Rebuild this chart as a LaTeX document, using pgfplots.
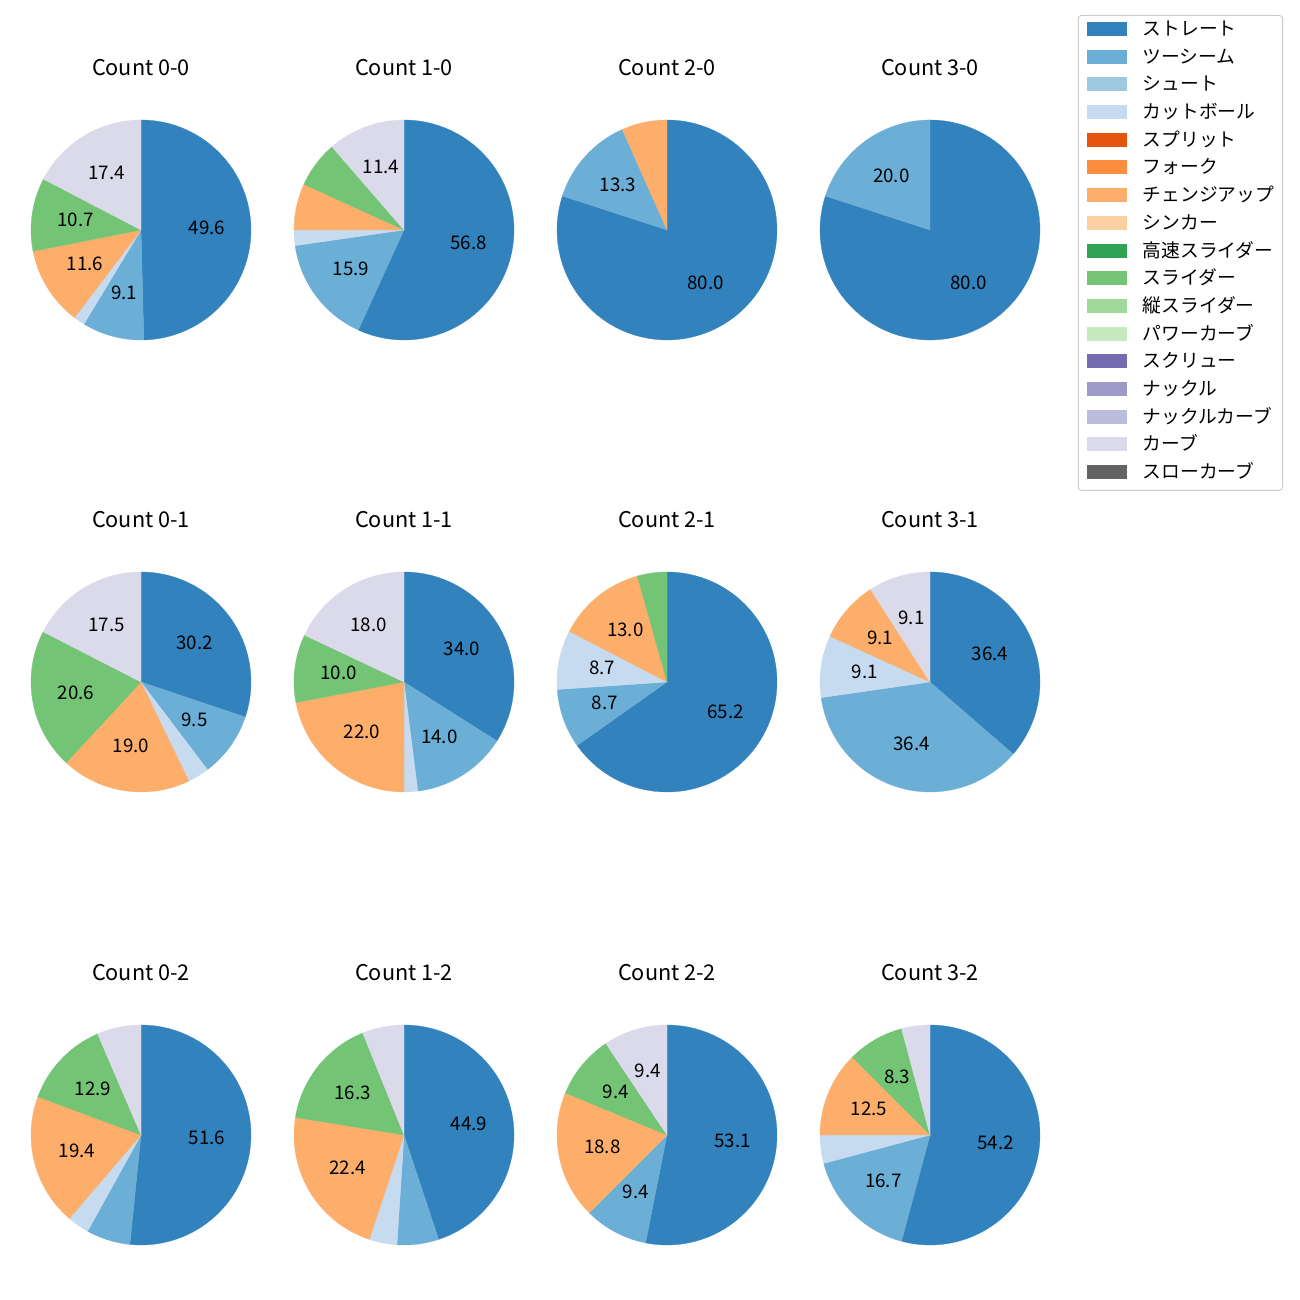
\documentclass[border=0pt]{standalone}
\usepackage{fontspec}
\setmainfont{Noto Sans CJK JP}
\usepackage{pgfplots}
\usepackage{pgfplotstable}
\pgfplotsset{compat=1.18}

\definecolor{k0}{HTML}{3182BD}
\definecolor{k1}{HTML}{6BAED6}
\definecolor{k2}{HTML}{9ECAE1}
\definecolor{k3}{HTML}{C6DBEF}
\definecolor{k4}{HTML}{E6550D}
\definecolor{k5}{HTML}{FD8D3C}
\definecolor{k6}{HTML}{FDAE6B}
\definecolor{k7}{HTML}{FDD0A2}
\definecolor{k8}{HTML}{31A354}
\definecolor{k9}{HTML}{74C476}
\definecolor{k10}{HTML}{A1D99B}
\definecolor{k11}{HTML}{C7E9C0}
\definecolor{k12}{HTML}{756BB1}
\definecolor{k13}{HTML}{9E9AC8}
\definecolor{k14}{HTML}{BCBDDC}
\definecolor{k15}{HTML}{DADAEB}
\definecolor{k16}{HTML}{636363}

% pitch counts: rows = pitch types (legend order), columns = counts (balls-strikes)
\pgfplotstableread{
id c00 c10 c20 c30 c01 c11 c21 c31 c02 c12 c22 c32
0  60  25  12  4   19  17  15  4   16  22  17  13
1  11  7   2   1   6   7   2   4   2   3   3   4
2  0   0   0   0   0   0   0   0   0   0   0   0
3  2   1   0   0   2   1   2   1   1   2   0   1
4  0   0   0   0   0   0   0   0   0   0   0   0
5  0   0   0   0   0   0   0   0   0   0   0   0
6  14  3   1   0   12  11  3   1   6   11  6   3
7  0   0   0   0   0   0   0   0   0   0   0   0
8  0   0   0   0   0   0   0   0   0   0   0   0
9  13  3   0   0   13  5   1   0   4   8   3   2
10 0   0   0   0   0   0   0   0   0   0   0   0
11 0   0   0   0   0   0   0   0   0   0   0   0
12 0   0   0   0   0   0   0   0   0   0   0   0
13 0   0   0   0   0   0   0   0   0   0   0   0
14 0   0   0   0   0   0   0   0   0   0   0   0
15 21  5   0   0   11  9   0   1   2   3   3   1
16 0   0   0   0   0   0   0   0   0   0   0   0
}\counts

\newcommand\drawpie[4]{%
  \gdef\pietotal{0}%
  \foreach \i in {0,...,16}{%
    \pgfplotstablegetelem{\i}{#1}\of\counts
    \pgfmathsetmacro\tmp{\pietotal+\pgfplotsretval}%
    \xdef\pietotal{\tmp}%
  }%
  \gdef\piecum{0}%
  \foreach \i in {0,...,16}{%
    \pgfplotstablegetelem{\i}{#1}\of\counts
    \let\v\pgfplotsretval
    \pgfmathsetmacro\aone{90-360*(\piecum/\pietotal)}%
    \pgfmathsetmacro\atwo{90-360*((\piecum+\v)/\pietotal)}%
    \pgfmathsetmacro\amid{(\aone+\atwo)/2}%
    \pgfmathsetmacro\pct{100*\v/\pietotal}%
    \pgfmathsetmacro\tmp{\piecum+\v}\xdef\piecum{\tmp}%
    \ifdim\v pt>0pt
      \edef\temp{\noexpand\addplot[fill=k\i, draw=k\i, line width=0.2pt, forget plot, domain=\atwo:\aone, samples=80] ({#2+110*cos(x)},{#3+110*sin(x)}) -- (axis cs:#2,#3) -- cycle;}%
      \temp
      \ifdim\pct pt>7pt
        \pgfmathsetmacro\lx{#2+66*cos(\amid)}%
        \pgfmathsetmacro\ly{#3+66*sin(\amid)+1}%
        \edef\temp{\noexpand\node[font=\noexpand\fontsize{13.5}{15}\noexpand\selectfont, inner sep=0pt, anchor=center] at (axis cs:\lx,\ly) {\noexpand\pgfmathprintnumber[fixed,fixed zerofill,precision=1,assume math mode=true]{\pct}};}%
        \temp
      \fi
    \fi
  }%
  \node[font=\fontsize{15.6}{18}\selectfont, anchor=base, inner sep=0pt] at (axis cs:#2,#3+154) {#4};
}

\pgfplotsset{legpatch/.style={legend image code/.code={\fill[#1, sharp corners] (0pt,0pt) rectangle (28.08pt,9.36pt);}}}

\begin{document}
\begin{tikzpicture}
\begin{axis}[
  scale only axis, width=936pt, height=936pt,
  xmin=0, xmax=1300, ymin=0, ymax=1300,
  hide axis, clip=false,
  legend style={at={(0.98692,0.98846)}, anchor=north east,
    draw={rgb,255:red,204;green,204;blue,204}, line width=0.7pt,
    rounded corners=2.2pt, fill=white,
    font=\fontsize{13.5}{16}\selectfont,
    inner xsep=6.12pt, inner ysep=1.44pt,
    row sep=0pt, column sep=11.52pt,
    nodes={anchor=base west, text height=12.96pt, text depth=6.98pt, inner xsep=0pt, inner ysep=0pt}},
]
\path (axis cs:0,0) rectangle (axis cs:1300,1300);
\addlegendimage{legpatch=k0}\addlegendentry{ストレート}
\addlegendimage{legpatch=k1}\addlegendentry{ツーシーム}
\addlegendimage{legpatch=k2}\addlegendentry{シュート}
\addlegendimage{legpatch=k3}\addlegendentry{カットボール}
\addlegendimage{legpatch=k4}\addlegendentry{スプリット}
\addlegendimage{legpatch=k5}\addlegendentry{フォーク}
\addlegendimage{legpatch=k6}\addlegendentry{チェンジアップ}
\addlegendimage{legpatch=k7}\addlegendentry{シンカー}
\addlegendimage{legpatch=k8}\addlegendentry{高速スライダー}
\addlegendimage{legpatch=k9}\addlegendentry{スライダー}
\addlegendimage{legpatch=k10}\addlegendentry{縦スライダー}
\addlegendimage{legpatch=k11}\addlegendentry{パワーカーブ}
\addlegendimage{legpatch=k12}\addlegendentry{スクリュー}
\addlegendimage{legpatch=k13}\addlegendentry{ナックル}
\addlegendimage{legpatch=k14}\addlegendentry{ナックルカーブ}
\addlegendimage{legpatch=k15}\addlegendentry{カーブ}
\addlegendimage{legpatch=k16}\addlegendentry{スローカーブ}

\drawpie{c00}{141}{1070}{Count 0-0}
\drawpie{c10}{404}{1070}{Count 1-0}
\drawpie{c20}{667}{1070}{Count 2-0}
\drawpie{c30}{930}{1070}{Count 3-0}
\drawpie{c01}{141}{618}{Count 0-1}
\drawpie{c11}{404}{618}{Count 1-1}
\drawpie{c21}{667}{618}{Count 2-1}
\drawpie{c31}{930}{618}{Count 3-1}
\drawpie{c02}{141}{165}{Count 0-2}
\drawpie{c12}{404}{165}{Count 1-2}
\drawpie{c22}{667}{165}{Count 2-2}
\drawpie{c32}{930}{165}{Count 3-2}
\end{axis}
\end{tikzpicture}
\end{document}
